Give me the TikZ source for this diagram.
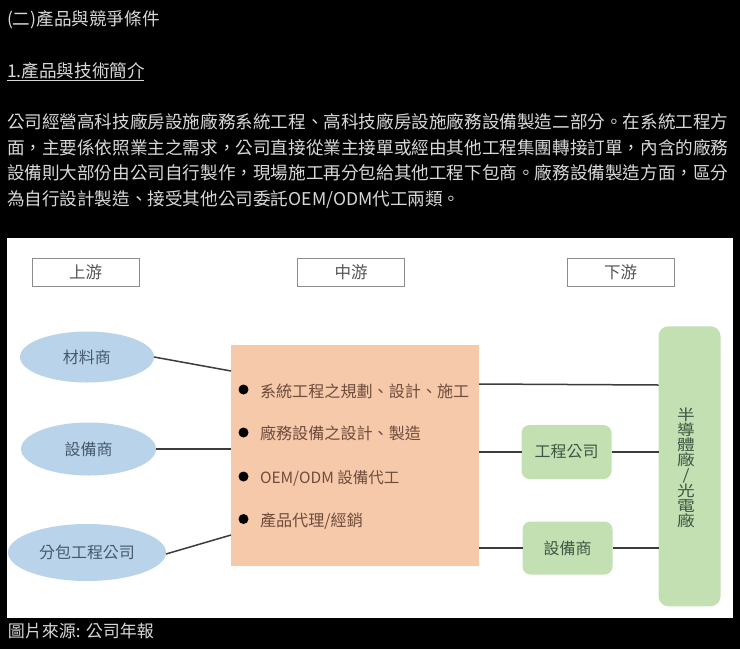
\documentclass[tikz,border=0pt]{standalone}
\usepackage{fontspec}
\setmainfont{Noto Sans CJK TC}
\usetikzlibrary{shapes.geometric}
\definecolor{pagetext}{HTML}{D8D8D8}
\definecolor{ellfill}{HTML}{B9D4EA}
\definecolor{ellink}{HTML}{46596C}
\definecolor{recfill}{HTML}{F6C9AB}
\definecolor{recink}{HTML}{6E4C3C}
\definecolor{grnfill}{HTML}{C3E0B3}
\definecolor{grnink}{HTML}{3E5642}
\definecolor{hdrink}{HTML}{555555}
\definecolor{hdrline}{HTML}{8C8C8C}
\definecolor{linkline}{HTML}{3C3C3C}
\newcommand{\fsz}[1]{\fontsize{#1}{#1}\selectfont}
\tikzset{
  x=1pt,y=-1pt,
  pagetxt/.style={anchor=base west,inner sep=0,outer sep=0,text=pagetext,font=\fsz{17.6}},
  hdrbox/.style={draw=hdrline,line width=1pt,fill=white,minimum width=107pt,minimum height=28.5pt,inner sep=0,outer sep=0,text=hdrink,font=\fsz{16.5}},
  ellbox/.style={ellipse,fill=ellfill,inner sep=0,outer sep=0,text=ellink,font=\fsz{16}},
  grnbox/.style={rounded corners=8pt,fill=grnfill,inner sep=0,outer sep=0,text=grnink,font=\fsz{16}},
  item/.style={anchor=base west,inner sep=0,outer sep=0,text=recink,font=\fsz{16.1}},
  dotmark/.style={circle,fill=black,minimum size=10pt,inner sep=0,outer sep=0},
  link/.style={draw=linkline,line width=1.5pt},
}
\begin{document}
\begin{tikzpicture}
\useasboundingbox (0,0) rectangle (740,649);
\fill[black] (0,0) rectangle (740,649);
\node[pagetxt] (title) at (7,25.5) {(二)產品與競爭條件};
\node[pagetxt] (subtitle) at (7,77) {1.產品與技術簡介};
\draw[pagetext,line width=1pt] (subtitle.base west) ++(0,3) -- ++(137,0);
\node[pagetxt] (p1) at (7,128.5) {公司經營高科技廠房設施廠務系統工程、高科技廠房設施廠務設備製造二部分。在系統工程方};
\node[pagetxt] (p2) at (7,154) {面，主要係依照業主之需求，公司直接從業主接單或經由其他工程集團轉接訂單，內含的廠務};
\node[pagetxt] (p3) at (7,179.5) {設備則大部份由公司自行製作，現場施工再分包給其他工程下包商。廠務設備製造方面，區分};
\node[pagetxt] (p4) at (7,205) {為自行設計製造、接受其他公司委託OEM/ODM代工兩類。};
\fill[white] (7,238) rectangle (733,618);
\node[hdrbox] (up) at (85.5,272.5) {上游};
\node[hdrbox] (mid) at (351,272.5) {中游};
\node[hdrbox] (down) at (620.5,272.5) {下游};
\node[ellbox,minimum width=134pt,minimum height=51pt] (e1) at (87,357) {材料商};
\node[ellbox,minimum width=135pt,minimum height=53pt] (e2) at (88.5,449) {設備商};
\node[ellbox,minimum width=158pt,minimum height=57pt] (e3) at (87,552.5) {分包工程公司};
\node[fill=recfill,minimum width=248pt,minimum height=221.5pt,inner sep=0,outer sep=0] (mainbox) at (355,455.25) {};
\node[grnbox,minimum width=90pt,minimum height=54pt] (g1) at (566.5,452) {工程公司};
\node[grnbox,minimum width=90pt,minimum height=53pt] (g2) at (567.5,548) {設備商};
\node[grnbox,minimum width=62pt,minimum height=280pt,rounded corners=10pt] (plant) at (689.5,466.25) {};
\node[inner sep=0,outer sep=0,align=center,text=grnink,font=\fsz{15},xscale=1.18,transform shape] (plantlabel) at (686,468) {半\\導\\體\\廠\\/\\光\\電\\廠};
\draw[link] (e1.east) -- ([yshift=84.25pt]mainbox.west);
\draw[link] (e2.east) -- ([yshift=6.25pt]mainbox.west);
\draw[link] ([yshift=-1.5pt]e3.east) -- ([yshift=-79.75pt]mainbox.west);
\draw[link] ([yshift=71.25pt]mainbox.east) -- ([yshift=81.25pt]plant.west);
\draw[link] ([yshift=3.25pt]mainbox.east) -- (g1.west);
\draw[link] (g1.east) -- ([yshift=14.25pt]plant.west);
\draw[link] ([yshift=-92.75pt]mainbox.east) -- (g2.west);
\draw[link] (g2.east) -- ([yshift=-81.75pt]plant.west);
\node[dotmark] (d1) at (243.5,389.5) {};
\node[dotmark] (d2) at (243.5,432.5) {};
\node[dotmark] (d3) at (243.5,476.5) {};
\node[dotmark] (d4) at (243.5,519) {};
\node[item] (i1) at (260,397) {系統工程之規劃、設計、施工};
\node[item] (i2) at (260,439.5) {廠務設備之設計、製造};
\node[item,font=\fsz{15.5}] (i3) at (260,483) {OEM/ODM 設備代工};
\node[item] (i4) at (260,526) {產品代理/經銷};
\node[pagetxt,font=\fsz{17}] (source) at (8,637.5) {圖片來源: 公司年報};
\end{tikzpicture}
\end{document}
